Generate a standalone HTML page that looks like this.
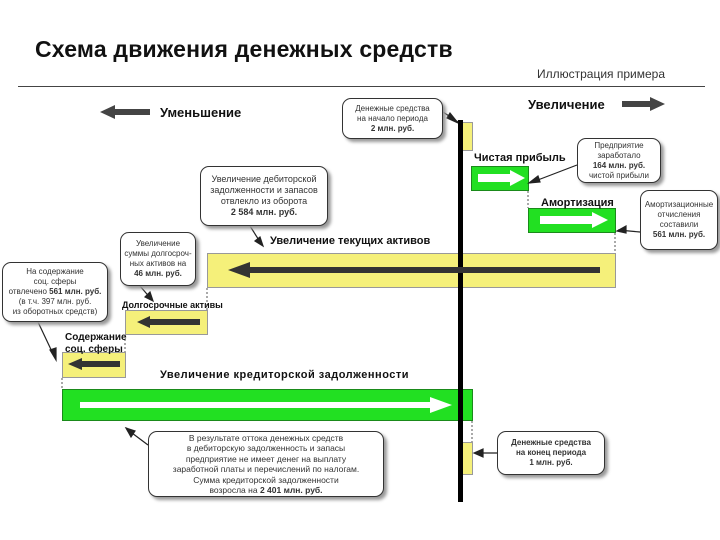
<!DOCTYPE html>
<html><head><meta charset="utf-8"><style>
body{margin:0;width:720px;height:540px;background:#fff;position:relative;overflow:hidden;font-family:"Liberation Sans",sans-serif;color:#111}
.a{position:absolute}
.b{position:absolute;border:1.5px solid #333;border-radius:9px;background:#fff;box-shadow:3px 3px 3px #999;font-size:8px;line-height:10px;text-align:center;color:#333;display:flex;align-items:center;justify-content:center;box-sizing:border-box}
.lbl{position:absolute;font-weight:bold;font-size:11px;white-space:nowrap}
.y{position:absolute;background:#f5f07a;border:1px solid #999;box-sizing:border-box}
.g{position:absolute;background:#22e022;border:1px solid #1a8a1a;box-sizing:border-box}
</style></head><body>
<div class="a" style="left:35px;top:36px;font-size:23px;font-weight:bold;letter-spacing:0.2px">Схема движения денежных средств</div>
<div class="a" style="left:537px;top:67px;font-size:12px;color:#333">Иллюстрация примера</div>
<div class="a" style="left:18px;top:86px;width:687px;height:1px;background:#444"></div>
<div class="lbl" style="left:160px;top:105px;font-size:13px">Уменьшение</div>
<div class="lbl" style="left:528px;top:97px;font-size:13px">Увеличение</div>

<div class="y" style="left:461px;top:122px;width:12px;height:29px"></div>
<div class="y" style="left:461px;top:442px;width:12px;height:33px"></div>
<div class="g" style="left:471px;top:166px;width:58px;height:25px"></div>
<div class="g" style="left:528px;top:208px;width:88px;height:25px"></div>
<div class="y" style="left:207px;top:253px;width:409px;height:35px"></div>
<div class="y" style="left:125px;top:310px;width:83px;height:25px"></div>
<div class="y" style="left:62px;top:352px;width:64px;height:26px"></div>
<div class="g" style="left:62px;top:389px;width:411px;height:32px"></div>
<div class="a" style="left:458px;top:120px;width:5px;height:382px;background:#000"></div>

<svg class="a" style="left:0;top:0" width="720" height="540">
<g fill="#444">
<polygon points="100,112 115,105 115,109 150,109 150,115 115,115 115,119"/>
<polygon points="665,104 650,97 650,101 622,101 622,107 650,107 650,111"/>
</g>
<g fill="#333">
<polygon points="228,270 250,262 250,267 600,267 600,273 250,273 250,278"/>
<polygon points="137,322 150,316 150,319 200,319 200,325 150,325 150,328"/>
<polygon points="68,364 82,358 82,361 120,361 120,367 82,367 82,370"/>
</g>
<g fill="#fff">
<polygon points="525,178 510,170 510,174 478,174 478,182 510,182 510,186"/>
<polygon points="608,220 592,212 592,216 540,216 540,224 592,224 592,228"/>
<polygon points="452,405 430,397 430,402 80,402 80,408 430,408 430,413"/>
</g>
<g stroke="#555" stroke-width="1" stroke-dasharray="2,2">
<line x1="528" y1="191" x2="528" y2="208"/><line x1="615" y1="233" x2="615" y2="253"/>
<line x1="207" y1="288" x2="207" y2="310"/><line x1="125" y1="335" x2="125" y2="352"/>
<line x1="62" y1="378" x2="62" y2="389"/><line x1="472" y1="421" x2="472" y2="442"/>
</g>
<g stroke="#222" stroke-width="1.2" fill="#222">
<line x1="443" y1="112" x2="458" y2="122"/><polygon points="458,123 450,113 447,118"/>
<line x1="577" y1="165" x2="530" y2="183"/><polygon points="529,183 538,176 540,182"/>
<line x1="640" y1="232" x2="618" y2="230"/><polygon points="617,231 626,226 626,233"/>
<line x1="250" y1="226" x2="262" y2="245"/><polygon points="263,246 255,241 260,237"/>
<line x1="140" y1="286" x2="152" y2="300"/><polygon points="153,301 145,297 150,292"/>
<line x1="38" y1="322" x2="55" y2="358"/><polygon points="56,360 50,350 56,348"/>
<line x1="148" y1="445" x2="128" y2="430"/><polygon points="126,428 135,431 131,437"/>
<line x1="497" y1="453" x2="475" y2="453"/><polygon points="474,453 483,449 483,457"/>
</g>
</svg>

<div class="lbl" style="left:474px;top:152px">Чистая прибыль</div>
<div class="lbl" style="left:541px;top:197px">Амортизация</div>
<div class="lbl" style="left:270px;top:235px">Увеличение текущих активов</div>
<div class="lbl" style="left:122px;top:300px;font-size:9px">Долгосрочные активы</div>
<div class="lbl" style="left:65px;top:332px;font-size:10px;line-height:12px">Содержание<br>соц. сферы</div>
<div class="lbl" style="left:160px;top:369px;letter-spacing:0.5px">Увеличение кредиторской задолженности</div>

<div class="b" style="left:342px;top:98px;width:101px;height:41px"><div>Денежные средства<br>на начало периода<br><b>2 млн. руб.</b></div></div>
<div class="b" style="left:577px;top:138px;width:84px;height:45px"><div>Предприятие<br>заработало<br><b>164 млн. руб.</b><br>чистой прибыли</div></div>
<div class="b" style="left:640px;top:190px;width:78px;height:60px"><div>Амортизационные<br>отчисления<br>составили<br><b>561 млн. руб.</b></div></div>
<div class="b" style="left:200px;top:166px;width:128px;height:60px;font-size:9px;line-height:11px"><div>Увеличение дебиторской<br>задолженности и запасов<br>отвлекло из оборота<br><b>2 584 млн. руб.</b></div></div>
<div class="b" style="left:120px;top:232px;width:76px;height:54px"><div>Увеличение<br>суммы долгосроч-<br>ных активов на<br><b>46 млн. руб.</b></div></div>
<div class="b" style="left:2px;top:262px;width:106px;height:60px"><div>На содержание<br>соц. сферы<br>отвлечено <b>561 млн. руб.</b><br>(в т.ч. 397 млн. руб.<br>из оборотных средств)</div></div>
<div class="b" style="left:148px;top:431px;width:236px;height:66px;font-size:8.5px;line-height:10.5px"><div>В результате оттока денежных средств<br>в дебиторскую задолженность и запасы<br>предприятие не имеет денег на выплату<br>заработной платы и перечислений по налогам.<br>Сумма кредиторской задолженности<br>возросла на <b>2 401 млн. руб.</b></div></div>
<div class="b" style="left:497px;top:431px;width:108px;height:44px"><div><b>Денежные средства<br>на конец периода<br>1 млн. руб.</b></div></div>
</body></html>
